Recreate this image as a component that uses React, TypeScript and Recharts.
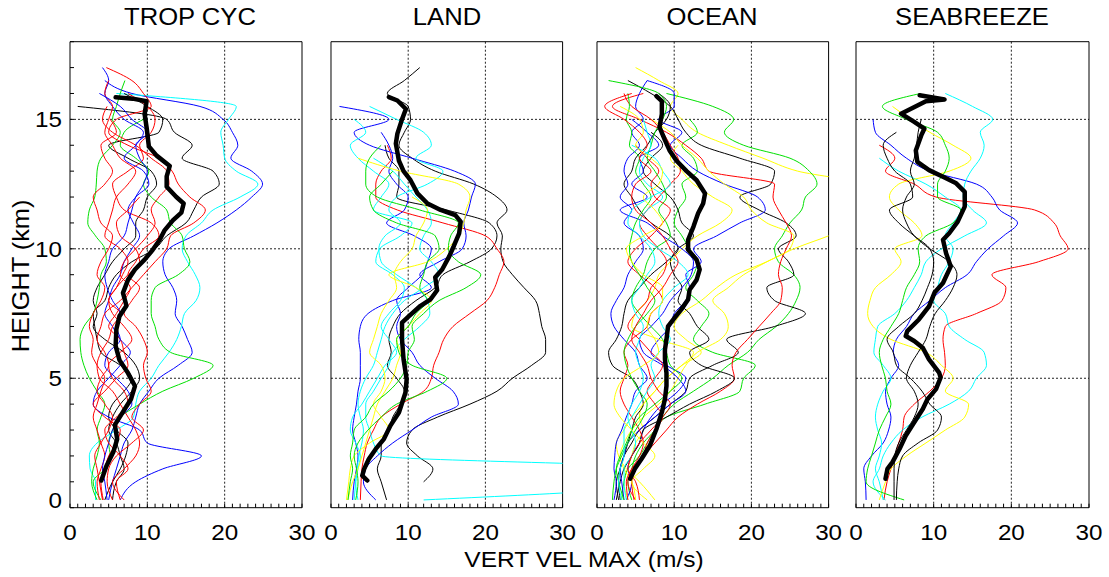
import React from 'react';
import { ScatterChart, Scatter, XAxis, YAxis, ReferenceLine } from 'recharts';

const _ = null;

// profile grid heights (km), top to bottom
const HEIGHTS = [17, 16.5, 16, 15.5, 15, 14.5, 14, 13.5, 13, 12.5, 12, 11.5, 11, 10.5, 10, 9.5, 9, 8.5, 8, 7.5, 7, 6.5, 6, 5.5, 5, 4.5, 4, 3.5, 3, 2.5, 2, 1.5, 1, 0.3];

const TITLES = ['TROP CYC', 'LAND', 'OCEAN', 'SEABREEZE'];
const X_TITLE = 'VERT VEL MAX (m/s)';
const Y_TITLE = 'HEIGHT (km)';
const X_TICKS = [0, 10, 20, 30];
const Y_TICKS = [0, 5, 10, 15];
const X_MINOR = [0, 1, 2, 3, 4, 5, 6, 7, 8, 9, 10, 11, 12, 13, 14, 15, 16, 17, 18, 19, 20, 21, 22, 23, 24, 25, 26, 27, 28, 29, 30];
const Y_MINOR = [0, 1, 2, 3, 4, 5, 6, 7, 8, 9, 10, 11, 12, 13, 14, 15, 16, 17, 18];
const X_GRID = [10, 20];
const Y_GRID = [5, 10, 15];

const red = '#ff0000';
const blue = '#0000ff';
const green = '#00e000';
const cyan = '#00ffff';
const yellow = '#ffff00';
const black = '#000000';

// TROP CYC
const TROP_COLORS = [blue, cyan, black, black, green, green, blue, red, red, red, red, red, blue, red];
const TROP_PROFILES = [
  [_, 4.5, 8, 16.8, 19.8, 21, 21.7, 20.8, 23.5, 24.9, 23.5, 21.5, 19, 16, 12.8, 12, 12.3, 13.3, 13.8, 13.6, 14.5, 15.2, 15.8, 14, 11.5, 10.2, 9, 8.5, 8, 7, 6.5, 6, 5.5, 5],
  [_, _, 6, 21.5, 20.5, 19.5, 19.8, 20, 21.5, 24.3, 22, 18.5, 17, 15, 14.5, 15.2, 16.2, 16.8, 16.3, 14.8, 14.4, 13.8, 12.8, 11.5, 10.5, 9, 8.5, 8.2, 6, 3.5, 2.5, 2.6, 3.3, 3.3],
  [_, _, _, 1, 12.5, 13.5, 15.8, 14.5, 18.5, 19.3, 17, 16, 15, 12.5, 11, 8, 6, 5, 4.5, 3, 3.2, 3.5, 4, 6.5, 8, 7, 5.5, 5, 6, 7.5, 7.2, 6.5, 5.5, 4.5],
  [_, _, 7, 10, 12, 11.5, 5, 7.5, 10.5, 11.2, 10, 9.5, 8.5, 8.5, 7, 5.5, 4.5, 3.5, 3, 3.5, 3, 4.5, 7, 8.5, 9, 8, 6.5, 5.5, 5, 6, 6.5, 7, 6, 5.5],
  [_, 7.1, 6.5, 6, 5.5, 6.5, 5.5, 4, 3.5, 3.4, 3.2, 2.5, 2.3, 3.3, 4.5, 4.7, 4, 3.8, 3.5, 3, 1.8, 1.3, 1.4, 1.8, 2.5, 3.5, 4.5, 4, 3.5, 3.8, 3.5, 3, 2.8, 3.5],
  [_, _, _, _, 9.5, 7, 6.5, 8.5, 10.2, 9.5, 10.5, 12.5, 13, 14.5, 14.8, 15.5, 14, 11, 10.5, 10.5, 11, 11.5, 13, 18.5, 16, 12, 9, 6.5, 5.5, 5, 5.2, 4.5, 3, 4],
  [4.2, 5, 4.5, 5.5, 7, 9.5, 8.5, 7, 9.5, 10.2, 8.5, 7.5, 8.2, 9, 8, 7, 6.5, 5.5, 5, 4.5, 5.5, 6.5, 7.8, 6.5, 5, 3.5, 3, 5, 9, 10, 17, 12, 8.5, 6.5],
  [4.7, 8, 9.5, 10.5, 6, 5, 7.5, 11.5, 13.2, 14, 15.5, 17.5, 16, 13, 12.5, 11, 9.5, 8, 6.5, 4.5, 4, 3.5, 4.5, 5, 4, 3.5, 4.5, 5.5, 5, 4, 3.2, 3.5, 3.8, 4.2],
  [_, 5, 4.5, 5.5, 5, 4.5, 5.5, 6.5, 8.5, 7.5, 6, 5.5, 5, 4.5, 6.5, 7.5, 6.8, 6, 5, 6.5, 5.5, 5, 4, 3.5, 3.8, 5.5, 6.5, 7.5, 8.5, 9, 8.5, 7, 5.5, 7],
  [_, _, _, 4.8, 4.2, 5.5, 8.5, 10.5, 12.5, 12.8, 11.5, 10.5, 11, 10, 8.5, 7, 6.5, 7.8, 7, 6, 5, 6.5, 7, 7.5, 6, 4.5, 3, 4.5, 6.5, 6, 5, 4.5, 4, 4.3],
  [_, _, 7.5, 10, 11, 10.5, 9, 9.5, 7.5, 5.5, 6, 7, 10.5, 11.5, 9.5, 8.5, 7.5, 9, 8, 7, 8.5, 9.5, 10, 9.5, 9.8, 10.5, 9, 8, 9.5, 8, 6, 5, 4.8, 5.5],
  [_, _, _, _, 5.2, 6, 4, 4.5, 5.5, 4.5, 3, 3.5, 4, 5.5, 5, 4, 3.5, 4.5, 4, 3, 2.5, 3, 2.8, 3.5, 4.5, 4, 3.5, 3, 3.5, 4, 4.5, 4, 3.5, 3.8],
  [_, _, 3.8, 6.5, 8, 10, 8.5, 9, 10, 9.5, 8.5, 8, 7.5, 7, 5.5, 5, 4.5, 4.8, 5.5, 6.5, 6, 6.5, 5, 4.5, 6, 7.5, 8, 6.5, 5.5, 5, 4.5, 4.2, 4.5, 4.8],
  [_, _, _, _, _, _, _, _, _, _, 9, 7.5, 6, 6.5, 8.5, 9, 7.5, 6, 5, 5.5, 7, 8, 6.5, 5, 5.5, 7, 7.5, 6, 4.5, 5, 6.5, 7.5, 6, 6.5],
];
const TROP_MEAN_H = [1.05, 1.6, 2.15, 2.65, 3.2, 3.7, 4.2, 4.7, 5.2, 5.7, 6.25, 6.9, 7.4, 7.8, 8.3, 8.8, 9.2, 9.58, 9.96, 10.35, 10.7, 11.1, 11.4, 11.75, 12.0, 12.4, 12.8, 13.2, 13.6, 13.95, 14.2, 14.7, 15.2, 15.7, 15.8, 15.85];
const TROP_MEAN_X = [4.05, 4.7, 5.6, 6.1, 5.8, 6.85, 7.9, 8.4, 7.5, 6.4, 5.9, 6.0, 6.4, 7.3, 6.85, 7.5, 8.4, 9.65, 10.7, 11.6, 12.2, 13.3, 14.4, 14.7, 13.75, 12.5, 12.5, 12.9, 11.2, 10.2, 10.1, 9.9, 9.65, 9.9, 8.1, 5.9];

// LAND
const LAND_COLORS = [black, black, red, blue, blue, cyan, cyan, cyan, yellow, yellow, green, green];
const LAND_PROFILES = [
  [11.5, 9.5, 7.3, 10, 10.3, 9.5, 8.8, 10.5, 13.5, 18.5, 21.5, 22.8, 21.5, 22.2, 22, 22.3, 23.5, 25, 26.5, 27, 27.3, 27.8, 27.8, 26, 23.5, 21.5, 18, 13.8, 10.5, 9.8, 11.2, 13.2, 12, _],
  [_, _, _, _, _, _, 7, 7.5, 8.8, 8.8, 8.5, 15, 20.5, 21.5, 20.8, 18, 14.5, 13.5, 11, 9, 8, 7.5, 7.8, 7.3, 8.5, 9.5, 9, 8, 7.5, 6.5, 6.5, 6, 6.5, 7.2],
  [_, _, _, _, _, _, 7.3, 7.8, 6.5, 5.8, 5.8, 8.6, 14.5, 20, 21.5, 22.4, 21.8, 21.2, 20.2, 18, 15.8, 14.6, 14, 13.3, 13, 12, 9, 6.5, 5.5, 4.7, 4.3, 4, 3.9, 3.8],
  [_, _, _, 1.1, 7.5, 3, 5, 10.5, 16, 18.7, 18.2, 17.8, 17.2, 17.5, 17, 14, 11.5, 13, 8, 4.8, 3.8, 3.6, 3.8, 3.8, 3.8, 3.5, 3.3, 3, 2.8, 3.2, 3.5, 3.3, 3, 2.8],
  [_, _, _, _, _, 6.5, 7.5, 8, 7.5, 8.5, 10, 9.5, 7.2, 10.8, 13, 12.5, 11.8, 10, 8.5, 9, 8.5, 9, 10.5, 11.5, 13.5, 15.8, 16.5, 13, 10.5, 8, 6, 4.5, 4.2, 5.8],
  [_, _, _, 5, 8.5, 12, 13, 11, 14.5, 12.5, 8.5, 7.5, 9, 7, 6.2, 6.5, 8.5, 11, 12.5, 12.8, 11.5, 9.5, 8, 7.5, 6.5, 5.5, 4.5, 4.5, 5, 5.5, 6.5, 45, 45, 12],
  [_, _, _, _, 3, 4.5, 2.5, 3.5, 5.5, 7.5, 6.5, 5.5, 10.5, 9, 6.3, 5.8, 8, 9.5, 9, 7.5, 6.5, 7.5, 8.5, 7, 6, 5, 4, 2.8, 2.5, 3.2, 3.8, 3.5, 3.2, 3.5],
  [_, _, _, _, _, _, _, 5.5, 8, 9.5, 11, 12.5, 13, 12, 11.5, 13, 14, 12, 9.5, 8, 7, 6.5, 6, 5.5, 4.5, 3.8, 3.5, 3.8, 4.2, 4, 3.6, 3.4, 3.2, 3.0],
  [_, _, _, _, _, _, _, 3.5, 9, 16.5, 18, 17.5, 17.2, 16.5, 15, 12.5, 7.5, 11, 13, 11.5, 10, 8.5, 9, 8.5, 8, 7, 6, 5.5, 5, 4.5, 4, 3.5, 2.8, 2.2],
  [_, _, _, _, _, _, _, _, _, _, 10.5, 12.5, 12, 11, 10.5, 9, 8.2, 8.5, 7.5, 6.5, 6, 5.5, 5, 6.5, 7, 6.5, 5.5, 6.5, 7.5, 5, 3, 2.5, 2.3, 2.0],
  [_, _, _, _, _, _, 6.5, 5, 4.5, 4.5, 6, 11.5, 16.5, 15.5, 15.2, 16.5, 19.4, 17.5, 14, 12, 10.5, 10.8, 10, 9.8, 9, 7.5, 5.5, 4.5, 3, 2.8, 2.5, 2.8, 2.5, 2.2],
  [_, _, _, _, _, _, _, _, 8, 6.5, 5, 5.5, 8.5, 13.5, 14, 12.5, 12, 11.5, 12.5, 11, 10, 8.5, 8.8, 10.5, 15, 12.5, 8.5, 6.5, 4.8, 3.5, 3, 3.3, 3.5, 3.2],
];
const LAND_MEAN_H = [1.05, 1.24, 1.5, 1.88, 2.27, 2.65, 3.17, 3.68, 4.45, 4.96, 5.73, 6.5, 7.15, 7.4, 7.8, 8.05, 8.4, 8.9, 9.2, 9.7, 10.1, 10.6, 11.05, 11.3, 11.5, 11.75, 12.14, 12.65, 13.0, 13.4, 14.06, 14.45, 15.0, 15.4, 15.73, 15.86];
const LAND_MEAN_X = [4.7, 4.05, 4.3, 4.9, 5.8, 6.85, 7.7, 8.8, 9.65, 9.8, 9.4, 9.2, 9.2, 10.1, 11.6, 12.9, 13.75, 13.5, 14.4, 15.3, 15.9, 16.6, 16.8, 16.1, 14.2, 12.5, 11.2, 10.3, 9.4, 8.8, 8.4, 8.6, 9.2, 9.7, 8.6, 7.5];

// OCEAN
const OCEAN_COLORS = [yellow, green, green, black, red, blue, yellow, black, black, yellow, blue, blue, red, red, green, green, cyan, cyan, yellow, red];
const OCEAN_PROFILES = [
  [5, 8, 10.5, 9.5, 11, 13, 17, 21.5, 26, 34, 34, 34, 34, 30, 25.5, 22, 18, 15.5, 13.5, 11, 10, 11.5, 13.5, 11, 9, 7.5, 6, 5.5, 6, 5, 4.5, 4, 3.5, 4],
  [_, _, 9, 15, 17.7, 16.5, 19, 25, 27.5, 28.5, 27, 26.5, 25, 24, 23, 23.5, 25.5, 26.3, 25.8, 24.8, 23.2, 21, 19.5, 17, 15, 12.5, 10, 8.5, 7.5, 6, 5, 4.5, 4, 4.5],
  [_, _, _, _, 12, 13, 11, 12.5, 13, 11, 11.5, 10.5, 10, 11, 12, 13, 12.5, 11.5, 13, 14.5, 13.5, 12.5, 15, 20.5, 19, 18.5, 14, 9, 7.5, 6.5, 5.5, 4, 3.5, 3.2],
  [_, 4, 7, 9.5, 10.5, 11.5, 13.5, 18.5, 23, 22.5, 18.5, 21, 24.5, 25.8, 23.5, 24.8, 25.5, 22, 23, 27, 23, 16.8, 18.3, 15, 12, 11.5, 9.5, 7.5, 5.5, 4.5, 3.5, 3, 2.8, 3],
  [_, _, 6, 2, 5.5, 9, 11.5, 13.5, 14.5, 23, 22.8, 23.5, 24.5, 25.2, 24.5, 23.8, 23.5, 24, 23.8, 22.5, 21, 19.5, 18, 17.5, 17.8, 16, 13, 10.5, 9, 7.5, 6, 4.5, 4, 5],
  [_, 6.5, 10, 10, 8, 11, 9.5, 11, 13, 16.5, 20.8, 21.8, 18.5, 15.5, 12.5, 13.5, 11.5, 12, 11.5, 10, 9.5, 8, 7, 9, 11.5, 10.5, 8.5, 7, 6, 5.5, 4.5, 4, 4.5, 3.8],
  [_, _, _, _, 7, 9.5, 11, 13, 14.5, 16.5, 19, 20, 22, 25.5, 25, 22, 19, 17, 15, 16.5, 17, 16, 13, 11.5, 10.5, 9.5, 8, 6, 4.5, 3.5, 3, 3.5, 4.5, 5],
  [_, _, 8, 9.5, 9, 7.5, 6.5, 5, 4.5, 3.5, 4.5, 5.5, 7, 9.5, 10.5, 9, 7, 5.5, 4, 3.5, 3.2, 2.5, 1.5, 2, 4.5, 5.5, 6, 5, 4.5, 4, 3.5, 3, 2.5, 2.8],
  [_, _, _, _, _, 7, 8.5, 7, 6, 7.5, 9.5, 10.5, 11, 12.5, 10.5, 9.5, 10, 11, 10.5, 12, 13, 14.5, 12, 13.5, 17.8, 15.5, 12, 9, 6, 5.5, 4.5, 3.5, 3, 2.5],
  [_, _, _, _, _, _, 10.5, 9.5, 11, 12.5, 15, 17.5, 16, 13, 11, 9.5, 8, 7.5, 6.5, 5, 4.5, 8, 12.5, 11, 9, 7.5, 6, 4.5, 3.5, 2.5, 2.8, 3.8, 5.5, 7.5],
  [_, 6.5, 5.5, 5, 6, 4.5, 5.5, 4, 3.5, 4, 3, 4.5, 3.5, 5.5, 6, 5, 4, 3.5, 2.5, 1.8, 2.2, 3.5, 5, 5.5, 6.5, 5, 4.5, 3.8, 3.2, 2.5, 2.3, 2.2, 2.5, 2.2],
  [_, _, _, _, 4.5, 6.5, 8, 5.5, 6, 4.5, 6.5, 3, 6.5, 8.5, 11, 12.5, 12.2, 11, 9.5, 8.5, 7, 5.5, 6, 8.5, 10.5, 11.5, 9.5, 7.5, 5.5, 4, 3.5, 3, 3.2, 3.5],
  [_, _, 3.5, 4.5, 7, 8.5, 9.5, 10.5, 10.8, 9.5, 8, 6.5, 5.5, 6.5, 8, 9, 8.5, 7, 6.5, 5, 4, 5.5, 7, 8.5, 7.5, 6.5, 7.5, 8.5, 7.5, 6.5, 6, 5, 4.5, 4.8],
  [_, _, _, _, _, _, 5, 6.5, 8, 7, 7.5, 9.5, 8.5, 7, 5, 4, 5.5, 7.5, 8.5, 7, 6.5, 4.5, 3.5, 4, 3.5, 3, 3.5, 4.5, 5.5, 6, 5.5, 4.5, 3.8, 4],
  [_, _, 4, 4.2, 3.8, 4.5, 4.2, 5.5, 5, 6, 7, 6, 5, 4.5, 4.2, 4.5, 5.5, 6.5, 7.5, 6.5, 5, 4, 3.5, 3.8, 4.5, 5.5, 6.5, 6, 5, 4, 3.2, 2.5, 2.2, 2],
  [_, 1.5, 8, 9, 8.5, 7.5, 7, 6.5, 7.5, 8.5, 9, 8, 9, 9.5, 7.5, 6.5, 6, 5, 4.5, 5.5, 7, 8.5, 9, 9.5, 11, 9.5, 7.5, 5.5, 4.5, 3.8, 3, 2.5, 2.8, 3.5],
  [_, _, _, _, 6, 6.5, 7, 6, 5.5, 6.5, 8.5, 6.5, 5.5, 6, 8, 10.5, 11.8, 10, 8.5, 8, 8.5, 9.5, 8, 7, 7.5, 6.5, 5.5, 4.5, 3.5, 3.5, 3.5, 3, 2.8, 3.2],
  [_, _, _, _, _, _, 4.5, 7.5, 8.5, 9.5, 7, 4.5, 4, 5.5, 7, 7.5, 6.5, 5.5, 4.5, 5, 6, 5.5, 5, 5.5, 6, 5.5, 4.5, 4, 4.5, 5, 4.5, 3.5, 3.5, 3.8],
  [_, _, _, 3, 5.5, 6, 5, 7, 8.5, 8, 6, 7.5, 8.5, 6, 3.8, 4.5, 6, 8.5, 8.5, 7, 6.5, 7.5, 8, 6, 3.5, 2.5, 2.2, 3, 4.5, 6, 7.5, 6, 4.5, 6.5],
  [_, _, 4.5, 1, 3.5, 5.5, 6.5, 5.5, 7, 5, 4.5, 5, 7, 8.5, 9.5, 10.5, 9.5, 8.5, 7, 6, 5, 4.5, 5.5, 6.5, 7, 8, 9.5, 8.5, 7, 5.5, 4.5, 4, 5, 5.5],
];
const OCEAN_MEAN_H = [1.12, 1.5, 1.9, 2.4, 3.04, 3.68, 4.2, 4.7, 5.2, 5.73, 6.1, 6.5, 7.0, 7.27, 7.65, 8.04, 8.42, 8.8, 9.2, 9.58, 9.96, 10.35, 10.86, 11.37, 11.75, 12.14, 12.65, 13.0, 13.4, 13.8, 14.2, 14.7, 15.2, 15.7, 15.9];
const OCEAN_MEAN_X = [4.3, 4.9, 5.8, 6.85, 7.7, 8.4, 8.8, 9.0, 9.0, 8.8, 8.8, 9.0, 9.2, 9.9, 10.9, 11.8, 12.0, 12.9, 13.3, 12.9, 11.8, 11.8, 12.5, 13.1, 13.75, 14.0, 12.9, 11.6, 10.3, 9.4, 8.8, 8.1, 8.4, 8.4, 7.7];

// SEABREEZE
const SEA_COLORS = [red, blue, cyan, cyan, yellow, green, black, black];
const SEA_PROFILES = [
  [_, _, _, _, _, _, 3, 5, 3.8, 7.5, 10.3, 23, 25.5, 26.3, 27.3, 23.5, 17.5, 19.3, 18.8, 15.5, 11.5, 11.2, 11.4, 11.5, 11, 9.5, 7.5, 6.2, 6, 5.5, 5, 4.5, 4, 3.6],
  [_, _, _, _, 2.2, 2.5, 4.5, 6.5, 9.5, 15.5, 17.5, 18.5, 20.8, 19, 17, 15.5, 14.3, 11.5, 9.5, 7.5, 6.5, 5.2, 4.8, 5.5, 4.5, 3.8, 4, 4.5, 4.2, 3.5, 2, 1, 1.2, 1.3],
  [_, _, 11.5, 15, 17.6, 16, 16.5, 16, 14.8, 14, 13.8, 15, 16.8, 14, 11, 9, 8.4, 7.5, 6.5, 5, 2.8, 2.5, 2.3, 3.5, 4.5, 3.5, 2.8, 2.5, 2.8, 3.3, 3, 2.5, 3, 3.5],
  [_, _, _, _, _, _, _, 3, 5.5, 9, 11.5, 13.5, 12.5, 11.5, 12.5, 12, 11, 10.5, 10, 11.5, 12, 14, 16.5, 16.8, 15.5, 14.5, 12, 8.5, 6, 4.5, 3.5, 3, 2.2, 3.8],
  [_, _, _, 4.7, 7, 9.5, 12.5, 14.8, 12, 5.5, 4.3, 5.5, 7.5, 8.5, 5, 5.8, 4.5, 2.5, 1.8, 1.5, 2.2, 4.5, 9, 11, 12.5, 11.5, 14.5, 14, 11.5, 9, 6.5, 4.5, 3.8, 3.0],
  [_, _, 8.3, 3.4, 6.5, 10.5, 11.5, 12, 11.5, 10.5, 10.5, 13.5, 12.5, 9, 8, 8.2, 7.5, 6.5, 6, 5.5, 4.5, 3.5, 3, 3.3, 3.8, 4, 4.5, 3.8, 3, 2.5, 2, 1.5, 1.3, 6.2],
  [_, _, _, _, 8.4, 8, 7.8, 7.5, 7, 7.5, 6.5, 6, 6.5, 7.5, 9.5, 12, 13, 12.5, 11.5, 10.2, 9.5, 9, 8, 7, 6.5, 7.5, 8, 7.5, 6.5, 5.5, 5, 4.9, 4.9, 4.9],
  [_, _, _, _, _, 5.2, 3.5, 4, 5, 7, 7.3, 4.3, 5.5, 7.5, 9.5, 10, 9.8, 9.2, 8.5, 7.5, 5.5, 4, 4.8, 5.2, 7, 8.5, 9.5, 11, 10.5, 8, 6, 5.5, 5.3, 5.2],
];
const SEA_MEAN_H = [1.12, 1.5, 1.76, 2.27, 2.78, 3.3, 3.81, 4.19, 4.58, 5.03, 5.22, 5.73, 6.18, 6.44, 6.63, 6.82, 7.27, 7.78, 8.3, 8.68, 9.32, 9.83, 10.35, 10.6, 11.05, 11.63, 12.2, 12.53, 12.78, 13.04, 13.36, 13.8, 14.38, 14.64, 14.9, 15.22, 15.7, 15.77, 15.93];
const SEA_MEAN_X = [3.8, 4.05, 4.7, 5.6, 6.4, 7.5, 8.6, 9.2, 10.3, 10.9, 10.7, 9.4, 8.6, 7.5, 6.4, 6.6, 8.1, 9.4, 10.1, 11.2, 12.2, 11.6, 11.2, 12.0, 13.1, 14.0, 14.0, 12.9, 11.2, 9.4, 7.9, 7.7, 8.4, 8.8, 7.5, 5.8, 9.0, 11.4, 8.2];

const FONT = '"Liberation Sans", Arial, Helvetica, sans-serif';
const PAGE_W = 1109;
const PAGE_H = 577;
const PLOT_TOP = 41.7;
const PLOT_BOTTOM = 507.7;
const PANEL_X = [[69.7, 301.7], [330.7, 562.3], [596.7, 828.3], [856, 1089]];
const TITLE_X = [190, 447, 712, 972];
const TICK_LEN = 4;

const noDot = () => <g />;

const toPoints = (vals: (number | null)[]) =>
  HEIGHTS.map((h, i) => ({ h, x: vals[i] }))
    .filter((p) => p.x !== null)
    .sort((a, b) => a.h - b.h);

// ticks point inward (negative tickSize); only the major values get a label
const XTick = (props: any) => {
  const { x, y, payload } = props;
  if (!X_TICKS.includes(payload.value)) return <g />;
  return (
    <text transform={`translate(${x},${y + TICK_LEN + 32.5}) scale(1.1,1)`} textAnchor="middle" fontSize={22} fontFamily={FONT} fill="#000">
      {payload.value}
    </text>
  );
};

const YTick = (props: any) => {
  const { x, y, payload } = props;
  if (!Y_TICKS.includes(payload.value)) return <g />;
  const dy = payload.value === 0 ? 0.6 : 8;
  return (
    <text transform={`translate(${x - TICK_LEN - 8},${y + dy}) scale(1.1,1)`} textAnchor="end" fontSize={22} fontFamily={FONT} fill="#000">
      {payload.value}
    </text>
  );
};

interface PanelProps {
  index: number;
  profiles: (number | null)[][];
  colors: string[];
  meanH: number[];
  meanX: number[];
}

const Panel: React.FC<PanelProps> = ({ index, profiles, colors, meanH, meanX }) => {
  const [plotLeft, plotRight] = PANEL_X[index];
  const showY = index === 0;
  const leftSpace = 60;
  const rightSpace = 15;
  const leftW = showY ? 45 : 1;
  const rightW = 1;
  const topH = 1;
  const bottomH = 45;
  const width = plotRight - plotLeft + leftSpace + rightSpace;
  const mean = meanH.map((h, i) => ({ h, x: meanX[i] }));
  const frame = { stroke: '#000', strokeWidth: 1 };

  return (
    <div style={{ position: 'absolute', left: plotLeft - leftSpace, top: 0 }}>
      <ScatterChart
        width={width}
        height={PAGE_H}
        margin={{
          top: PLOT_TOP - topH,
          right: rightSpace - rightW,
          bottom: PAGE_H - PLOT_BOTTOM - bottomH,
          left: leftSpace - leftW,
        }}
      >
        <XAxis type="number" dataKey="x" domain={[0, 30]} allowDataOverflow orientation="bottom" height={bottomH}
          ticks={X_MINOR} interval={0} tick={XTick} tickSize={-TICK_LEN} tickMargin={0} tickLine={frame} axisLine={frame} />
        <XAxis xAxisId="top" type="number" domain={[0, 30]} allowDataOverflow orientation="top" height={topH}
          ticks={X_MINOR} interval={0} tick={false} tickSize={-TICK_LEN} tickLine={frame} axisLine={frame} />
        <YAxis type="number" dataKey="h" domain={[0, 18]} allowDataOverflow orientation="left" width={leftW}
          ticks={Y_MINOR} interval={0} tick={showY ? YTick : false} tickSize={-TICK_LEN} tickMargin={0} tickLine={frame} axisLine={frame} />
        <YAxis yAxisId="right" type="number" domain={[0, 18]} allowDataOverflow orientation="right" width={rightW}
          ticks={Y_MINOR} interval={0} tick={false} tickSize={-TICK_LEN} tickLine={frame} axisLine={frame} />
        {X_GRID.map((v) => (
          <ReferenceLine key={`gx-${v}`} x={v} stroke="#222" strokeDasharray="2 2" />
        ))}
        {Y_GRID.map((v) => (
          <ReferenceLine key={`gy-${v}`} y={v} stroke="#222" strokeDasharray="2 2" />
        ))}
        {profiles.map((vals, i) => (
          <Scatter
            key={`p-${i}`}
            data={toPoints(vals)}
            fill={colors[i]}
            line={{ stroke: colors[i], strokeWidth: 1 }}
            lineJointType="monotoneY"
            shape={noDot}
            legendType="none"
            isAnimationActive={false}
          />
        ))}
        <Scatter
          data={mean}
          fill="#000"
          line={{ stroke: '#000', strokeWidth: 4.5, strokeLinejoin: 'round', strokeLinecap: 'round' }}
          lineJointType="linear"
          shape={noDot}
          legendType="none"
          isAnimationActive={false}
        />
      </ScatterChart>
    </div>
  );
};

export default function App() {
  return (
    <div style={{ position: 'absolute', left: 0, top: 0, width: PAGE_W, height: PAGE_H, overflow: 'hidden', background: '#fff' }}>
      <Panel index={0} profiles={TROP_PROFILES} colors={TROP_COLORS} meanH={TROP_MEAN_H} meanX={TROP_MEAN_X} />
      <Panel index={1} profiles={LAND_PROFILES} colors={LAND_COLORS} meanH={LAND_MEAN_H} meanX={LAND_MEAN_X} />
      <Panel index={2} profiles={OCEAN_PROFILES} colors={OCEAN_COLORS} meanH={OCEAN_MEAN_H} meanX={OCEAN_MEAN_X} />
      <Panel index={3} profiles={SEA_PROFILES} colors={SEA_COLORS} meanH={SEA_MEAN_H} meanX={SEA_MEAN_X} />
      <svg width={PAGE_W} height={PAGE_H} style={{ position: 'absolute', left: 0, top: 0, pointerEvents: 'none' }}>
        {TITLES.map((t, i) => (
          <text key={t} transform={`translate(${TITLE_X[i]},25) scale(1.1,1)`} textAnchor="middle" fontSize={23.3} fontFamily={FONT} fill="#000">
            {t}
          </text>
        ))}
        <text transform="translate(584,566.7) scale(1.1,1)" textAnchor="middle" fontSize={22.3} fontFamily={FONT} fill="#000">
          {X_TITLE}
        </text>
        <text transform="translate(29,276) rotate(-90) scale(1.1,1)" textAnchor="middle" fontSize={23} fontFamily={FONT} fill="#000">
          {Y_TITLE}
        </text>
      </svg>
    </div>
  );
}
